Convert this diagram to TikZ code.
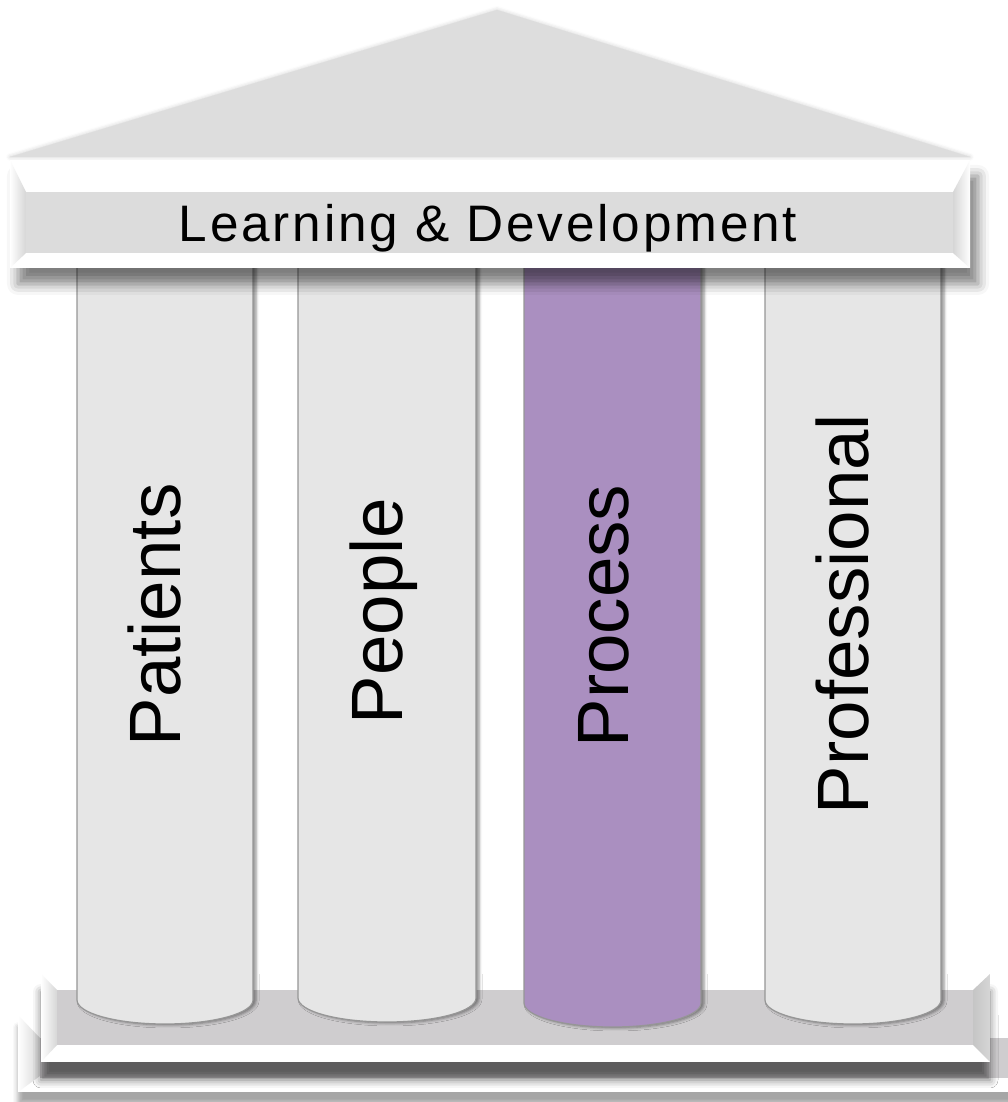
\documentclass[tikz,border=0pt]{standalone}
\usepackage{fontspec}
\setmainfont{Liberation Sans}
\usetikzlibrary{shadows.blur}

\definecolor{roofgray}{RGB}{221,221,221}
\definecolor{beamgray}{RGB}{220,220,220}
\definecolor{bevelgray}{RGB}{214,214,214}
\definecolor{basegray}{RGB}{207,205,207}
\definecolor{pillargray}{RGB}{230,230,230}
\definecolor{pillarline}{RGB}{150,150,150}
\definecolor{processpurple}{RGB}{170,143,192}

\tikzset{
  pillar/.style={fill=pillargray, draw=pillarline, line width=1.2bp,
    blur shadow={shadow xshift=3bp, shadow yshift=-1bp, shadow blur radius=3bp, shadow opacity=45}},
  pillartext/.style={rotate=90, anchor=base, inner sep=0pt, font=\fontsize{73}{80}\selectfont},
  beamtext/.style={anchor=base, inner sep=0pt, font=\fontsize{51.5}{60}\selectfont\addfontfeature{LetterSpace=5.5}},
}

\begin{document}
\begin{tikzpicture}[line join=miter]
  \useasboundingbox (0bp,0bp) rectangle (1008bp,1102bp);
%%
  % Roof
  \fill [roofgray, blur shadow={shadow xshift=0bp, shadow yshift=0bp, shadow blur radius=4bp, shadow opacity=20}] (10bp,945bp) -- (497bp,1092bp) -- (970bp,945bp) -- cycle;
  % Base: lower plinth
  \fill [white, blur shadow={shadow xshift=0bp, shadow yshift=-12bp, shadow blur radius=5bp, shadow opacity=35}] (18bp,87bp) rectangle (1040bp,10bp);
  \shade [left color=white, right color=bevelgray] (18bp,87bp) -- (40bp,64bp) -- (40bp,26bp) -- (18bp,10bp) -- cycle;
  \fill [basegray] (40bp,64bp) rectangle (1018bp,24bp);
  % Base: upper plinth
  \fill [white, blur shadow={shadow xshift=0bp, shadow yshift=-18bp, shadow blur radius=8bp, shadow opacity=55}] (41bp,128bp) rectangle (990bp,40bp);
  \shade [left color=white, right color=bevelgray] (41bp,128bp) -- (57bp,112bp) -- (57bp,57bp) -- (41bp,40bp) -- cycle;
  \shade [left color=bevelgray!92!black, right color=bevelgray] (990bp,128bp) -- (973bp,112bp) -- (973bp,57bp) -- (990bp,40bp) -- cycle;
  \fill [basegray] (57bp,112bp) rectangle (973bp,57bp);
  % Pillars
  \draw [pillar] (77bp,840bp) -- (77bp,102bp) arc[start angle=180, end angle=360, x radius=88bp, y radius=24bp] -- (253bp,840bp) -- cycle;
  \draw [pillar] (298bp,840bp) -- (298bp,104bp) arc[start angle=180, end angle=360, x radius=89bp, y radius=24bp] -- (476bp,840bp) -- cycle;
  \draw [pillar, fill=processpurple] (524bp,840bp) -- (524bp,99bp) arc[start angle=180, end angle=360, x radius=88.5bp, y radius=24bp] -- (701bp,840bp) -- cycle;
  \draw [pillar] (765bp,840bp) -- (765bp,102bp) arc[start angle=180, end angle=360, x radius=88bp, y radius=24bp] -- (941bp,840bp) -- cycle;
  % Beam
  \fill [white, blur shadow={shadow xshift=8bp, shadow yshift=-16bp, shadow blur radius=11bp, shadow opacity=50}] (10bp,942bp) rectangle (970bp,834bp);
  \shade [left color=white, right color=bevelgray] (10bp,942bp) -- (26bp,910bp) -- (26bp,849bp) -- (10bp,834bp) -- cycle;
  \shade [left color=bevelgray, right color=white] (970bp,942bp) -- (953bp,910bp) -- (953bp,849bp) -- (970bp,834bp) -- cycle;
  \fill [beamgray] (26bp,910bp) rectangle (953bp,849bp);
  % Labels
  \node [beamtext] (learning) at (488bp,860bp) {Learning \& Development};
  \node [pillartext] (patients) at (180bp,487bp) {Patients};
  \node [pillartext] (people) at (402bp,491bp) {People};
  \node [pillartext] (process) at (628bp,486bp) {Process};
  \node [pillartext] (professional) at (868bp,488bp) {Professional};
%
\end{tikzpicture}
\end{document}
